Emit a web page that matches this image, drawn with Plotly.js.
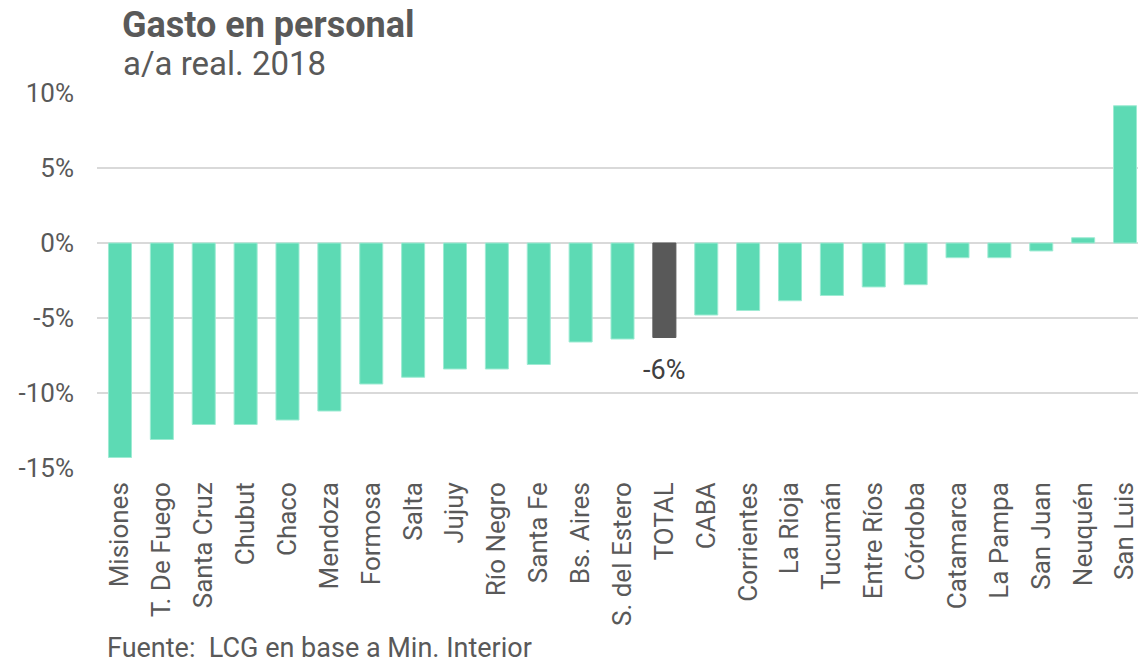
<!DOCTYPE html>
<html>
<head>
<meta charset="utf-8">
<script src="https://cdn.plot.ly/plotly-3.0.1.min.js"></script>
<style>html,body{margin:0;padding:0;background:#fff;}#chart{width:1138px;height:666px;}</style>
</head>
<body>
<div id="chart"></div>
<script>
const categories = ["Misiones","T. De Fuego","Santa Cruz","Chubut","Chaco","Mendoza","Formosa","Salta","Jujuy","Río Negro","Santa Fe","Bs. Aires","S. del Estero","TOTAL","CABA","Corrientes","La Rioja","Tucumán","Entre Ríos","Córdoba","Catamarca","La Pampa","San Juan","Neuquén","San Luis"];
const values = [-14.3,-13.1,-12.1,-12.1,-11.8,-11.2,-9.4,-8.95,-8.4,-8.4,-8.1,-6.6,-6.4,-6.3,-4.8,-4.5,-3.85,-3.5,-2.93,-2.78,-0.98,-0.98,-0.53,0.35,9.15];
const totalLabel = "TOTAL";
const totalText = "-6%";
const yTickVals = [-15,-10,-5,0,5,10];
const yTickText = ["-15%","-10%","-5%","0%","5%","10%"];

const teal = "#5DDAB4";
const dark = "#595959";
const colors = categories.map(c => c === totalLabel ? dark : teal);
const lineColors = categories.map(c => c === totalLabel ? dark : "#9EEBD3");
const totalVal = values[categories.indexOf(totalLabel)];

const fontFam = "Roboto, 'Open Sans', sans-serif";
const gray = "#595959";

const data = [{
  type: "bar",
  x: categories,
  y: values,
  width: 0.55,
  marker: {color: colors, line: {color: lineColors, width: 1}},
  hoverinfo: "x+y"
}];

const layout = {
  width: 1138, height: 666,
  margin: {l: 97, r: 0, t: 93, b: 198},
  paper_bgcolor: "#fff", plot_bgcolor: "#fff",
  showlegend: false,
  font: {family: fontFam, color: gray},
  title: {
    text: "<b>Gasto en personal</b>",
    font: {family: fontFam, size: 36, color: gray},
    xref: "container", yref: "container",
    x: 122/1138, xanchor: "left",
    y: 1 - 12/666, yanchor: "top"
  },
  xaxis: {
    type: "category",
    range: [-0.549, 24.31],
    tickangle: -90,
    tickfont: {family: fontFam, size: 26, color: gray},
    showgrid: false, zeroline: false, showline: false,
    ticks: "", ticklabelstandoff: 8,
    fixedrange: true
  },
  yaxis: {
    range: [-15, 10],
    tickvals: yTickVals, ticktext: yTickText,
    tickfont: {family: fontFam, size: 26, color: gray},
    showgrid: true, gridcolor: "#D9D9D9", gridwidth: 2,
    zeroline: true, zerolinecolor: "#D9D9D9", zerolinewidth: 2,
    showline: false, ticks: "", ticklabelstandoff: 22,
    fixedrange: true
  },
  bargap: 0.45,
  annotations: [
    {
      text: "a/a real. 2018",
      xref: "paper", yref: "paper",
      x: (121-97)/1041, xanchor: "left",
      y: (468-42)/375, yanchor: "top",
      showarrow: false,
      font: {family: fontFam, size: 33, color: gray}
    },
    {
      text: "Fuente:  LCG en base a Min. Interior",
      xref: "paper", yref: "paper",
      x: (105-97)/1041, xanchor: "left",
      y: (468-666)/375, yanchor: "bottom",
      showarrow: false,
      font: {family: fontFam, size: 27, color: gray}
    },
    {
      text: totalText,
      xref: "x", yref: "y",
      x: totalLabel, y: totalVal,
      yanchor: "top", yshift: -14,
      showarrow: false,
      font: {family: fontFam, size: 27, color: "#404040"}
    }
  ]
};

Plotly.newPlot("chart", data, layout, {displayModeBar: false, staticPlot: false});
</script>
</body>
</html>
